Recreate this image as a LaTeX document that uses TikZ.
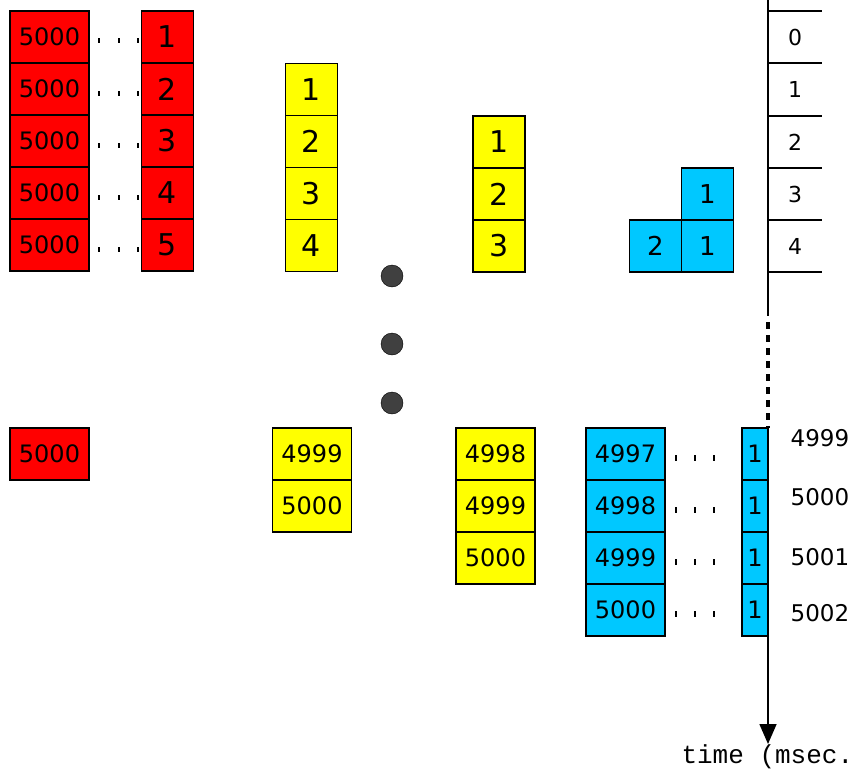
\documentclass[tikz,border=0pt]{standalone}
\usepackage{fontspec}
\setmainfont{DejaVu Sans}
\newfontfamily\timefont{Liberation Mono}
\usetikzlibrary{positioning}
\usetikzlibrary{arrows.meta}
\definecolor{cellred}{RGB}{255,0,0}
\definecolor{cellyellow}{RGB}{255,255,0}
\definecolor{cellcyan}{RGB}{0,200,255}
\definecolor{dotgray}{RGB}{64,64,64}
\tikzset{cell/.style={draw,line width=1.1pt,inner sep=0pt,outer sep=0pt,minimum height=52pt},
  wide cell/.style={cell,minimum width=79pt,font=\fontsize{24}{26}\selectfont},
  narrow cell/.style={cell,minimum width=52pt,font=\fontsize{30}{32}\selectfont},
  thin cell/.style={cell,minimum width=26pt,font=\fontsize{24}{26}\selectfont},
  tick label/.style={font=\fontsize{22}{24}\selectfont},
  axis/.style={line width=1.6pt},}

\begin{document}
\begin{tikzpicture}[x=1pt,y=-1pt]
   \useasboundingbox (0,0) rectangle (854,771);
   % first rows: red, yellow, yellow, cyan
   \node[wide cell,fill=cellred] (rl1) at (49.5,37) {5000};
   \node[narrow cell,fill=cellred] (rr1) at (167.5,37) {1};
   \foreach \i [remember=\i as \j (initially 1)] in {2,...,5} {
     \node[wide cell,fill=cellred] (rl\i) [below=0pt of rl\j] {5000};
     \node[narrow cell,fill=cellred] (rr\i) [below=0pt of rr\j] {\i};
   }
   \node[narrow cell,fill=cellyellow] (ya1) at (311.5,89.5) {1};
   \foreach \i [remember=\i as \j (initially 1)] in {2,...,4}
     \node[narrow cell,fill=cellyellow] (ya\i) [below=0pt of ya\j] {\i};
   \node[narrow cell,fill=cellyellow] (yb1) at (499,142) {1};
   \foreach \i [remember=\i as \j (initially 1)] in {2,3}
     \node[narrow cell,fill=cellyellow] (yb\i) [below=0pt of yb\j] {\i};
   \node[narrow cell,fill=cellcyan,font=\fontsize{26}{28}\selectfont] (ca1) at (707.5,194) {1};
   \node[narrow cell,fill=cellcyan,font=\fontsize{26}{28}\selectfont] (ca2) [below=0pt of ca1] {1};
   \node[narrow cell,fill=cellcyan,font=\fontsize{26}{28}\selectfont] (ca3) [left=0pt of ca2] {2};
   \foreach \y in {37,89.5,142,194,246}
     \foreach \x in {99,119,138}
       \fill (\x-1,\y+1) rectangle (\x+1,\y+6);

   % big dots
   \foreach \y [count=\k] in {276,344,403}
     \fill[dotgray,draw=black] (392,\y) circle (11pt);

   % last rows
   \node[wide cell,fill=cellred] (rz1) at (49.5,454) {5000};
   \node[wide cell,fill=cellyellow] (yz1) at (312,454) {4999};
   \node[wide cell,fill=cellyellow] (yz2) [below=0pt of yz1] {5000};
   \node[wide cell,fill=cellyellow] (yw1) at (495.5,454) {4998};
   \node[wide cell,fill=cellyellow] (yw2) [below=0pt of yw1] {4999};
   \node[wide cell,fill=cellyellow] (yw3) [below=0pt of yw2] {5000};
   \node[wide cell,fill=cellcyan] (cz1) at (625.5,454) {4997};
   \node[thin cell,fill=cellcyan] (cs1) at (755,454) {1};
   \foreach \n [count=\i from 2,remember=\i as \j (initially 1)] in {4998,4999,5000} {
     \node[wide cell,fill=cellcyan] (cz\i) [below=0pt of cz\j] {\n};
     \node[thin cell,fill=cellcyan] (cs\i) [below=0pt of cs\j] {1};
   }
   \foreach \y in {454,506,558,610}
     \foreach \x in {676,695,714}
       \fill (\x-1,\y+1) rectangle (\x+1,\y+7);

   % time axis
   \coordinate (axtop) at (768,0);
   \coordinate (axbrk) at (768,316);
   \coordinate (axdot) at (768,322);
   \coordinate (axres) at (768,428);
   \coordinate (axend) at (768,744);
   \draw[axis] (axtop) -- (axbrk);
   \draw[line width=3.4pt,dash pattern=on 7pt off 6pt] (axdot) -- (axres);
   \draw[axis,-{Triangle[length=20pt,width=17pt]}] (axres) -- (axend);
   \foreach \y in {11,63,116,168,220,272}
     \draw[line width=1.1pt] (768,\y) -- (822,\y);
   \foreach \lab/\y in {0/37,1/89.5,2/142,3/194,4/246}
     \node[tick label] (t\lab) at (795,\y) {\lab};
   \foreach \lab/\y in {4999/438,5000/497,5001/557,5002/613}
     \node[tick label,font=\fontsize{23}{25}\selectfont] (t\lab) at (820,\y) {\lab};
   \node[anchor=base west,font=\timefont\fontsize{26}{28}\selectfont] (tname) at (678,763) {time (msec.};
\end{tikzpicture}
\end{document}
